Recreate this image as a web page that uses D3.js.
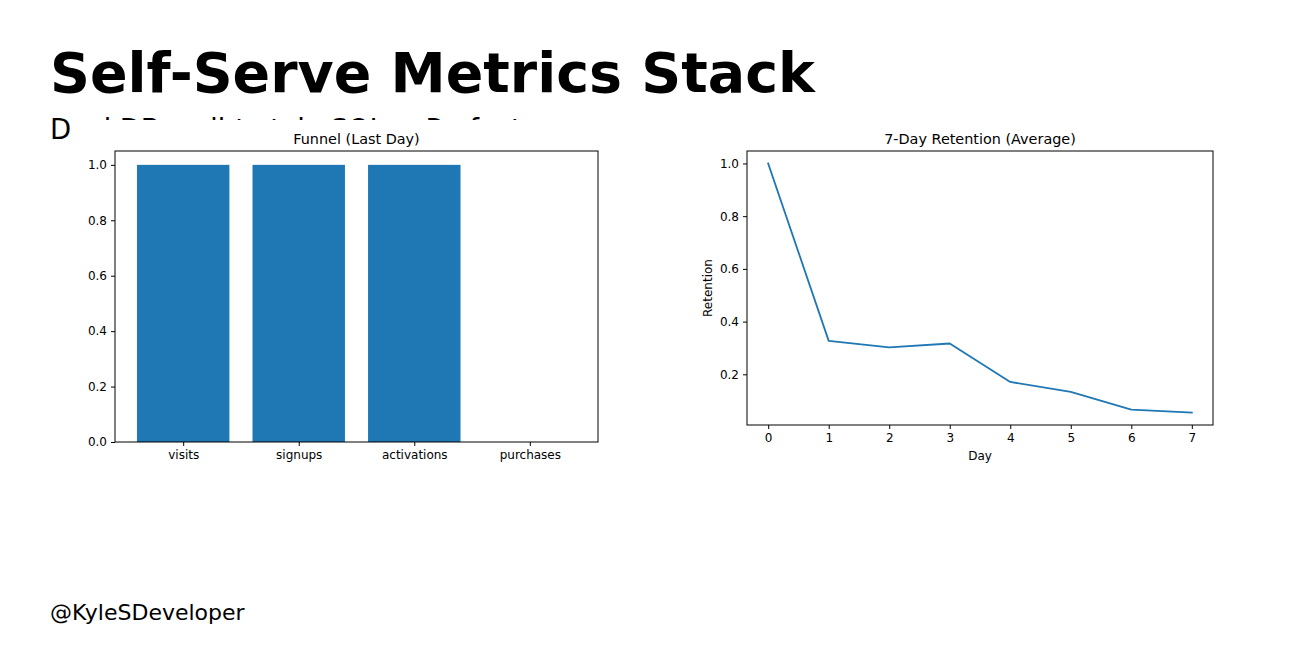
<!DOCTYPE html>
<html><head><meta charset="utf-8">
<script src="https://cdn.jsdelivr.net/npm/d3@7"></script>
<style>body{margin:0;background:#fff}svg{display:block}text{font-family:"DejaVu Sans",sans-serif}</style>
</head><body>
<svg id="c" width="1300" height="660"></svg>
<script>
const titleText = "Self-Serve Metrics Stack";
const subtitleText = "DuckDB + dbt-style SQL + Prefect";
const footerText = "@KyleSDeveloper";
const funnelTitle = "Funnel (Last Day)";
const funnelCategories = ["visits", "signups", "activations", "purchases"];
const funnelValues = [1.0, 1.0, 1.0, 0.0];
const funnelTicks = [0.0, 0.2, 0.4, 0.6, 0.8, 1.0];
const retentionTitle = "7-Day Retention (Average)";
const retentionDays = [0, 1, 2, 3, 4, 5, 6, 7];
const retentionValues = [1.0, 0.327, 0.302, 0.317, 0.171, 0.133, 0.066, 0.055];
const retentionYTicks = [0.2, 0.4, 0.6, 0.8, 1.0];
const retentionXLabel = "Day";
const retentionYLabel = "Retention";

const blue = "#1f77b4";
const svg = d3.select("#c");

// title
const t = svg.append("text").attr("x", 50).attr("y", 92).attr("font-size", 56).attr("font-weight", "bold").attr("fill", "#000").text(titleText);
const tw = t.node().getComputedTextLength();
t.attr("font-size", 56 * 765 / tw);
// subtitle (mostly covered by the figure, as in the original)
svg.append("text").attr("x", 50).attr("y", 139).attr("font-size", 27.5).attr("fill", "#000").text(subtitleText);
// figure background covering the subtitle
svg.append("rect").attr("x", 73).attr("y", 120).attr("width", 1180).attr("height", 360).attr("fill", "#fff");
// footer
svg.append("text").attr("x", 50).attr("y", 620).attr("font-size", 22).attr("fill", "#000").text(footerText);

function frame(g, x0, x1, y0, y1) {
  g.append("rect").attr("x", x0).attr("y", y0).attr("width", x1 - x0).attr("height", y1 - y0)
    .attr("fill", "none").attr("stroke", "#000").attr("stroke-width", 1);
}
function styleAxis(sel) {
  sel.select(".domain").remove();
  sel.selectAll(".tick line").attr("stroke", "#000").attr("stroke-width", 1);
  sel.selectAll(".tick text").attr("font-size", 12).attr("fill", "#000").attr("font-family", "DejaVu Sans, sans-serif");
}

// ---- Funnel
{
  const L = 115, R = 598, T = 151, B = 442;
  const n = funnelCategories.length;
  const x = d3.scaleLinear().domain([-0.59, n - 1 + 0.59]).range([L, R]);
  const y = d3.scaleLinear().domain([0, 1.05]).range([B, T]);
  const g = svg.append("g");
  g.selectAll("rect.bar").data(funnelValues).join("rect").attr("class", "bar")
    .attr("x", (d, i) => x(i - 0.4)).attr("width", x(0.4) - x(-0.4))
    .attr("y", d => y(d)).attr("height", d => y(0) - y(d)).attr("fill", blue);
  const ya = g.append("g").attr("transform", `translate(${L},0)`)
    .call(d3.axisLeft(y).tickValues(funnelTicks).tickFormat(d3.format(".1f")).tickSize(4).tickPadding(4));
  styleAxis(ya);
  const xa = g.append("g").attr("transform", `translate(0,${B})`)
    .call(d3.axisBottom(x).tickValues(d3.range(n)).tickFormat(i => funnelCategories[i]).tickSize(4).tickPadding(4));
  styleAxis(xa);
  frame(g, L, R, T, B);
  g.append("text").attr("x", (L + R) / 2).attr("y", T - 7).attr("text-anchor", "middle").attr("font-size", 14.4).text(funnelTitle);
}

// ---- Retention
{
  const L = 747, R = 1213, T = 151, B = 425;
  const x = d3.scaleLinear().domain([-0.35, 7.35]).range([L, R]);
  const ymin = d3.min(retentionValues), ymax = d3.max(retentionValues);
  const m = (ymax - ymin) * 0.05;
  const y = d3.scaleLinear().domain([ymin - m, ymax + m]).range([B, T]);
  const g = svg.append("g");
  const line = d3.line().x((d, i) => x(retentionDays[i])).y(d => y(d));
  g.append("path").datum(retentionValues).attr("d", line).attr("fill", "none")
    .attr("stroke", blue).attr("stroke-width", 1.8).attr("stroke-linejoin", "round").attr("stroke-linecap", "square");
  const ya = g.append("g").attr("transform", `translate(${L},0)`)
    .call(d3.axisLeft(y).tickValues(retentionYTicks).tickFormat(d3.format(".1f")).tickSize(4).tickPadding(4));
  styleAxis(ya);
  const xa = g.append("g").attr("transform", `translate(0,${B})`)
    .call(d3.axisBottom(x).tickValues(retentionDays).tickFormat(d3.format("d")).tickSize(4).tickPadding(4));
  styleAxis(xa);
  frame(g, L, R, T, B);
  g.append("text").attr("x", (L + R) / 2).attr("y", T - 7).attr("text-anchor", "middle").attr("font-size", 14.4).text(retentionTitle);
  g.append("text").attr("x", (L + R) / 2).attr("y", B + 35).attr("text-anchor", "middle").attr("font-size", 12).text(retentionXLabel);
  g.append("text").attr("transform", `translate(${L - 35},${(T + B) / 2}) rotate(-90)`).attr("text-anchor", "middle").attr("font-size", 12).text(retentionYLabel);
}
</script>
</body></html>
